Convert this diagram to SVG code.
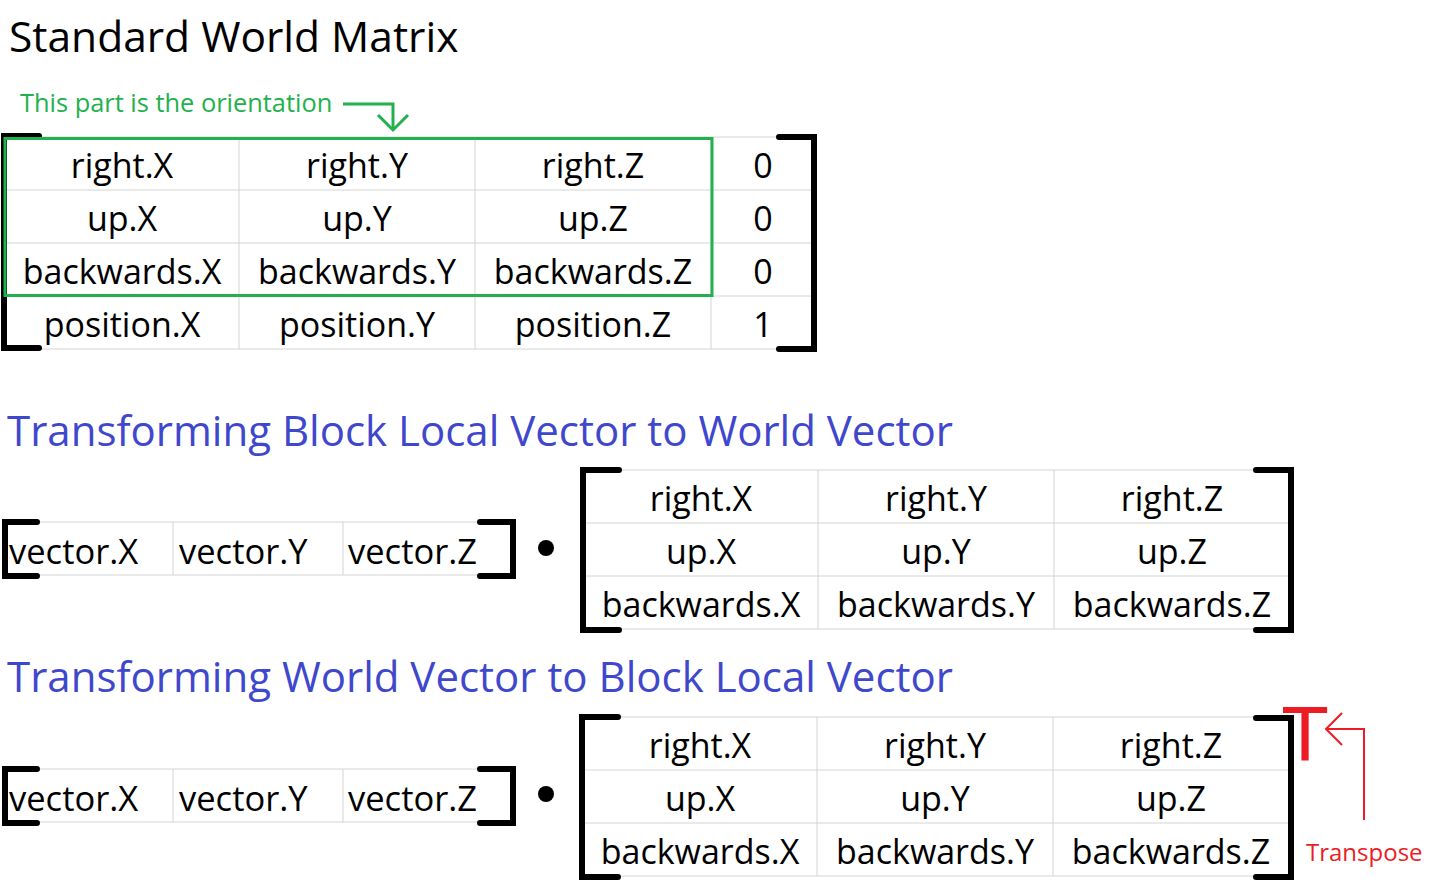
<svg xmlns="http://www.w3.org/2000/svg" width="1432" height="896" viewBox="0 0 1432 896">
  <style>
    .bg { fill: #ffffff; }
    .grid { stroke: #d4d4d4; stroke-width: 1; fill: none; }
    .brk { stroke: #000000; stroke-width: 6; fill: none; stroke-linecap: round; stroke-linejoin: miter; }
    .cell { font-family: "Open Sans", "Noto Sans", sans-serif; font-size: 34px; fill: #000000; text-anchor: middle; }
    .vec { font-family: "Open Sans", "Noto Sans", sans-serif; font-size: 34.5px; fill: #000000; }
    .title { font-family: "Open Sans", "Noto Sans", sans-serif; font-size: 42.5px; fill: #000000; }
    .head { font-family: "Open Sans", "Noto Sans", sans-serif; font-size: 42px; fill: #3f48cc; }
    .note { font-family: "Open Sans", "Noto Sans", sans-serif; font-size: 25.4px; fill: #22b14c; }
    .red { font-family: "Open Sans", "Noto Sans", sans-serif; font-size: 24px; fill: #ed1c24; }
    .gline { stroke: #22b14c; stroke-width: 3; fill: none; }
    .rline { stroke: #ed1c24; stroke-width: 2; fill: none; }
  </style>

  <rect class="bg" x="0" y="0" width="1432" height="896"/>

  <text class="title" x="9" y="52">Standard World Matrix</text>

  <!-- Standard world matrix (4x4) -->
  <g id="world-matrix">
    <path class="grid" d="M5 137H815M5 190H815M5 243H815M5 296H815M5 349H815M239 137V349M475 137V349M711 137V349"/>
    <text class="cell" x="122" y="178">right.X</text>
    <text class="cell" x="357" y="178">right.Y</text>
    <text class="cell" x="593" y="178">right.Z</text>
    <text class="cell" x="763" y="178">0</text>
    <text class="cell" x="122" y="231">up.X</text>
    <text class="cell" x="357" y="231">up.Y</text>
    <text class="cell" x="593" y="231">up.Z</text>
    <text class="cell" x="763" y="231">0</text>
    <text class="cell" x="122" y="284">backwards.X</text>
    <text class="cell" x="357" y="284">backwards.Y</text>
    <text class="cell" x="593" y="284">backwards.Z</text>
    <text class="cell" x="763" y="284">0</text>
    <text class="cell" x="122" y="337">position.X</text>
    <text class="cell" x="357" y="337">position.Y</text>
    <text class="cell" x="593" y="337">position.Z</text>
    <text class="cell" x="763" y="337">1</text>
    <path class="brk" d="M39 136H4V348H39"/>
    <path class="brk" d="M779 137H814V349H779"/>
  </g>

  <!-- Orientation block highlight -->
  <g id="orientation">
    <rect class="gline" x="5" y="138.5" width="707" height="157"/>
    <text class="note" x="20" y="112">This part is the orientation</text>
  </g>

  <g id="connectors">
    <path class="gline" stroke-width="2.5" d="M343 104H393V129"/>
    <path class="gline" stroke-width="2.5" d="M378 115L393 130L408 115"/>
    <path class="rline" d="M1364 820V729H1327"/>
    <path class="rline" d="M1342 713L1326 729L1342 745"/>
  </g>

  <text class="head" x="7" y="446">Transforming Block Local Vector to World Vector</text>

  <!-- Local to world: row vector -->
  <g id="vector-1">
    <path class="grid" d="M4 522H514M4 575H514M173 522V575M343 522V575"/>
    <text class="vec" x="9" y="564">vector.X</text>
    <text class="vec" x="179" y="564">vector.Y</text>
    <text class="vec" x="348" y="564">vector.Z</text>
    <path class="brk" d="M37 522H5V576H37"/>
    <path class="brk" d="M480 522H513V576H480"/>
  </g>
  <g id="dot-1"><circle cx="546" cy="548" r="8"/></g>

  <!-- Local to world: rotation matrix -->
  <g id="matrix-1">
    <path class="grid" d="M583 470H1291M583 523H1291M583 576H1291M583 629H1291M818 470V629M1054 470V629"/>
    <text class="cell" x="701" y="511">right.X</text>
    <text class="cell" x="936" y="511">right.Y</text>
    <text class="cell" x="1172" y="511">right.Z</text>
    <text class="cell" x="701" y="564">up.X</text>
    <text class="cell" x="936" y="564">up.Y</text>
    <text class="cell" x="1172" y="564">up.Z</text>
    <text class="cell" x="701" y="617">backwards.X</text>
    <text class="cell" x="936" y="617">backwards.Y</text>
    <text class="cell" x="1172" y="617">backwards.Z</text>
    <path class="brk" d="M619 470H583V630H619"/>
    <path class="brk" d="M1256 470H1291V630H1256"/>
  </g>

  <text class="head" x="7" y="692">Transforming World Vector to Block Local Vector</text>

  <!-- World to local: row vector -->
  <g id="vector-2">
    <path class="grid" d="M4 769H514M4 822H514M173 769V822M343 769V822"/>
    <text class="vec" x="9" y="811">vector.X</text>
    <text class="vec" x="179" y="811">vector.Y</text>
    <text class="vec" x="348" y="811">vector.Z</text>
    <path class="brk" d="M37 769H5V823H37"/>
    <path class="brk" d="M480 769H513V823H480"/>
  </g>
  <g id="dot-2"><circle cx="546" cy="794" r="8"/></g>

  <!-- World to local: transposed rotation matrix -->
  <g id="matrix-2">
    <path class="grid" d="M582 717H1290M582 770H1290M582 823H1290M582 876H1290M817 717V876M1053 717V876"/>
    <text class="cell" x="700" y="758">right.X</text>
    <text class="cell" x="935" y="758">right.Y</text>
    <text class="cell" x="1171" y="758">right.Z</text>
    <text class="cell" x="700" y="811">up.X</text>
    <text class="cell" x="935" y="811">up.Y</text>
    <text class="cell" x="1171" y="811">up.Z</text>
    <text class="cell" x="700" y="864">backwards.X</text>
    <text class="cell" x="935" y="864">backwards.Y</text>
    <text class="cell" x="1171" y="864">backwards.Z</text>
    <path class="brk" d="M618 717H582V877H618"/>
    <path class="brk" d="M1256 718H1291V877H1256"/>
  </g>

  <!-- Transpose marker -->
  <g id="transpose">
    <text x="1305" y="761" font-family="'Liberation Sans', sans-serif" font-size="78" fill="#ed1c24" text-anchor="middle">T</text>
    <text class="red" x="1306" y="861">Transpose</text>
  </g>
</svg>
